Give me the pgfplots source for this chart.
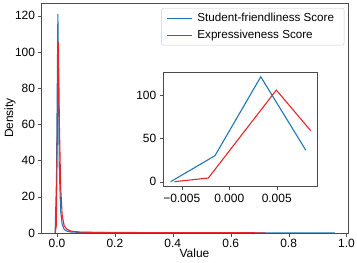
\documentclass[border=0pt]{standalone}
\usepackage{fontspec}
\setmainfont{Liberation Sans}
\usepackage{pgfplots}
\pgfplotsset{compat=1.18}
\definecolor{tabblue}{RGB}{31,119,180}
\definecolor{myred}{RGB}{232,37,42}
\pgfplotsset{
  every axis/.append style={font=\fontsize{12}{14}\selectfont},
  tick label style={font=\fontsize{12}{14}\selectfont},
  /pgf/number format/assume math mode=true,
  axis line style={black!70},
  tick style={black!70},
  tick align=outside,
  major tick length=3.5bp,
}
\begin{document}
\begin{tikzpicture}
\useasboundingbox (-41bp,-30bp) rectangle (316bp,233bp);
\begin{axis}[at={(0,0)}, anchor=south west, scale only axis,
  width=307bp, height=230bp,
  xmin=-0.055, xmax=1.005, ymin=0, ymax=127,
  xtick={0,0.2,0.4,0.6,0.8,1.0},
  xticklabels={0.0,0.2,0.4,0.6,0.8,1.0},
  ytick={0,20,40,60,80,100,120},
  xtick pos=bottom, ytick pos=left,
  xticklabel style={yshift=1bp},
  yticklabel style={xshift=1bp},
  xlabel={Value}, ylabel={Density},
  xlabel style={at={(axis description cs:0.5,-0.087)}, anchor=center},
  ylabel style={at={(axis description cs:-0.101,0.5)}, anchor=center},
  legend style={at={(0.988,0.978)}, anchor=north east, draw=black!20, rounded corners=2pt, fill=white, font=\fontsize{11.7}{13}\selectfont, row sep=3bp, inner xsep=5bp, inner ysep=3bp, nodes={inner xsep=5bp}},
  legend cell align=left,
  legend image code/.code={\draw[#1, line width=1.1pt] plot coordinates {(0bp,0bp) (12bp,0bp) (25bp,0bp)};},
]
\addplot[tabblue, line width=1.1pt] coordinates {
(-0.00616,0) (-0.0015,30) (0.0033,121) (0.008,36.5) (0.013,12) (0.018,5) (0.025,2) (0.035,1) (0.05,0.5) (0.1,0.3) (0.3,0.15) (0.6,0.1) (0.96,0.05)};
\addlegendentry{Student-friendliness Score}
\addplot[myred, line width=1.1pt] coordinates {
(-0.0058,0) (-0.0022,4) (0.005,105.7) (0.0086,58.8) (0.013,25) (0.018,10) (0.025,4) (0.035,2) (0.05,1) (0.08,0.5) (0.15,0.3) (0.4,0.2) (0.72,0.1)};
\addlegendentry{Expressiveness Score}
\end{axis}
\begin{axis}[at={(122.3bp,46.3bp)}, anchor=south west, scale only axis,
  width=154bp, height=114.4bp,
  xmin=-0.00694, xmax=0.00927, ymin=-5.8, ymax=126.2,
  scaled x ticks=false,
  xtick={-0.005,0,0.005}, xticklabels={−0.005,0.000,0.005},
  ytick={0,50,100},
  xtick pos=bottom, ytick pos=left,
  axis background/.style={fill=white},
]
\addplot[tabblue, line width=1.1pt] coordinates {
(-0.00616,0) (-0.0015,30) (0.00332,121) (0.00805,36.5)};
\addplot[myred, line width=1.1pt] coordinates {
(-0.00578,0) (-0.0022,4.2) (0.00496,105.7) (0.00858,58.8)};
\end{axis}
\end{tikzpicture}
\end{document}
